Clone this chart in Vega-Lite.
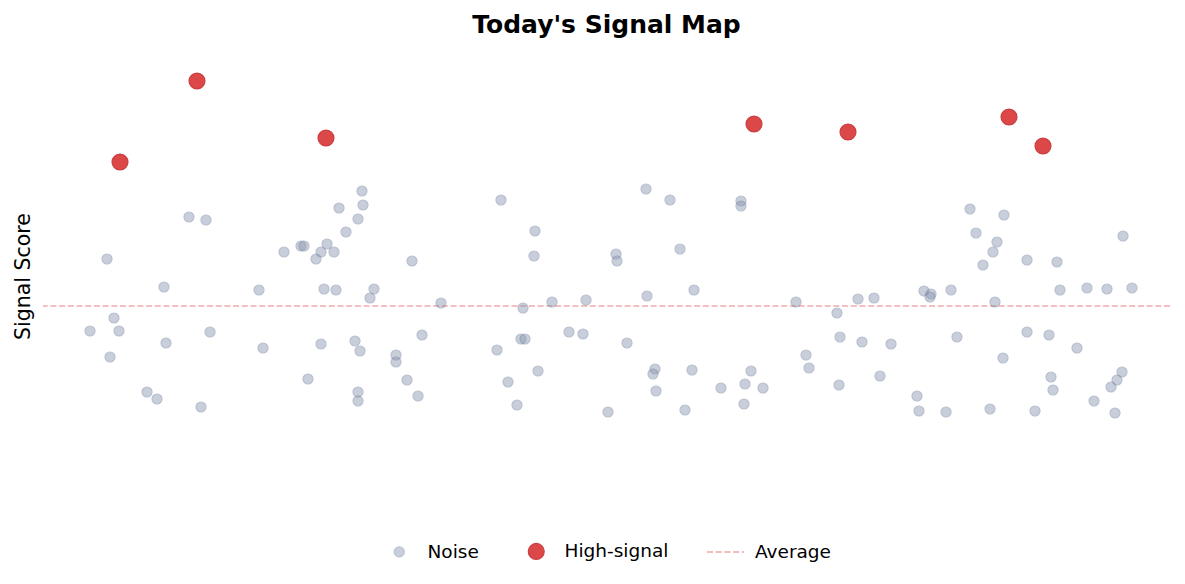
{
  "$schema": "https://vega.github.io/schema/vega-lite/v6.json",
  "width": 1127,
  "height": 460,
  "autosize": "none",
  "padding": {"left": 43, "top": 46, "right": 15, "bottom": 78},
  "config": {"view": {"stroke": null}, "font": "DejaVu Sans"},
  "title": {
    "text": "Today's Signal Map",
    "font": "DejaVu Sans",
    "fontSize": 25,
    "fontWeight": "bold",
    "color": "black",
    "anchor": "middle",
    "offset": 8
  },
  "data": {
    "values": [
      {"t": 77, "score": 14.4, "kind": "High-signal"},
      {"t": 154, "score": 22.5, "kind": "High-signal"},
      {"t": 283, "score": 16.8, "kind": "High-signal"},
      {"t": 711, "score": 18.2, "kind": "High-signal"},
      {"t": 805, "score": 17.4, "kind": "High-signal"},
      {"t": 966, "score": 18.9, "kind": "High-signal"},
      {"t": 1000, "score": 16.0, "kind": "High-signal"},
      {"t": 319, "score": 11.5, "kind": "Noise"},
      {"t": 320, "score": 10.1, "kind": "Noise"},
      {"t": 296, "score": 9.8, "kind": "Noise"},
      {"t": 146, "score": 8.9, "kind": "Noise"},
      {"t": 163, "score": 8.6, "kind": "Noise"},
      {"t": 315, "score": 8.7, "kind": "Noise"},
      {"t": 303, "score": 7.4, "kind": "Noise"},
      {"t": 258, "score": 6.0, "kind": "Noise"},
      {"t": 261, "score": 6.0, "kind": "Noise"},
      {"t": 284, "score": 6.2, "kind": "Noise"},
      {"t": 241, "score": 5.4, "kind": "Noise"},
      {"t": 278, "score": 5.4, "kind": "Noise"},
      {"t": 291, "score": 5.4, "kind": "Noise"},
      {"t": 273, "score": 4.7, "kind": "Noise"},
      {"t": 64, "score": 4.7, "kind": "Noise"},
      {"t": 369, "score": 4.5, "kind": "Noise"},
      {"t": 121, "score": 1.9, "kind": "Noise"},
      {"t": 216, "score": 1.6, "kind": "Noise"},
      {"t": 281, "score": 1.7, "kind": "Noise"},
      {"t": 293, "score": 1.6, "kind": "Noise"},
      {"t": 331, "score": 1.7, "kind": "Noise"},
      {"t": 327, "score": 0.8, "kind": "Noise"},
      {"t": 398, "score": 0.3, "kind": "Noise"},
      {"t": 71, "score": -1.2, "kind": "Noise"},
      {"t": 47, "score": -2.5, "kind": "Noise"},
      {"t": 76, "score": -2.5, "kind": "Noise"},
      {"t": 167, "score": -2.6, "kind": "Noise"},
      {"t": 123, "score": -3.7, "kind": "Noise"},
      {"t": 278, "score": -3.8, "kind": "Noise"},
      {"t": 312, "score": -3.5, "kind": "Noise"},
      {"t": 317, "score": -4.5, "kind": "Noise"},
      {"t": 220, "score": -4.2, "kind": "Noise"},
      {"t": 379, "score": -2.9, "kind": "Noise"},
      {"t": 353, "score": -4.9, "kind": "Noise"},
      {"t": 353, "score": -5.6, "kind": "Noise"},
      {"t": 67, "score": -5.1, "kind": "Noise"},
      {"t": 265, "score": -7.3, "kind": "Noise"},
      {"t": 364, "score": -7.4, "kind": "Noise"},
      {"t": 104, "score": -8.6, "kind": "Noise"},
      {"t": 114, "score": -9.3, "kind": "Noise"},
      {"t": 315, "score": -8.6, "kind": "Noise"},
      {"t": 315, "score": -9.5, "kind": "Noise"},
      {"t": 375, "score": -9.0, "kind": "Noise"},
      {"t": 158, "score": -10.1, "kind": "Noise"},
      {"t": 603, "score": 11.7, "kind": "Noise"},
      {"t": 458, "score": 10.6, "kind": "Noise"},
      {"t": 627, "score": 10.6, "kind": "Noise"},
      {"t": 698, "score": 10.5, "kind": "Noise"},
      {"t": 698, "score": 10.0, "kind": "Noise"},
      {"t": 492, "score": 7.5, "kind": "Noise"},
      {"t": 491, "score": 5.0, "kind": "Noise"},
      {"t": 573, "score": 5.2, "kind": "Noise"},
      {"t": 574, "score": 4.5, "kind": "Noise"},
      {"t": 637, "score": 5.7, "kind": "Noise"},
      {"t": 651, "score": 1.6, "kind": "Noise"},
      {"t": 604, "score": 1.0, "kind": "Noise"},
      {"t": 509, "score": 0.4, "kind": "Noise"},
      {"t": 543, "score": 0.6, "kind": "Noise"},
      {"t": 480, "score": -0.2, "kind": "Noise"},
      {"t": 753, "score": 0.4, "kind": "Noise"},
      {"t": 526, "score": -2.6, "kind": "Noise"},
      {"t": 540, "score": -2.8, "kind": "Noise"},
      {"t": 478, "score": -3.3, "kind": "Noise"},
      {"t": 482, "score": -3.3, "kind": "Noise"},
      {"t": 454, "score": -4.4, "kind": "Noise"},
      {"t": 584, "score": -3.7, "kind": "Noise"},
      {"t": 495, "score": -6.5, "kind": "Noise"},
      {"t": 465, "score": -7.6, "kind": "Noise"},
      {"t": 612, "score": -6.3, "kind": "Noise"},
      {"t": 610, "score": -6.8, "kind": "Noise"},
      {"t": 613, "score": -8.5, "kind": "Noise"},
      {"t": 649, "score": -6.4, "kind": "Noise"},
      {"t": 708, "score": -6.5, "kind": "Noise"},
      {"t": 702, "score": -7.8, "kind": "Noise"},
      {"t": 678, "score": -8.2, "kind": "Noise"},
      {"t": 720, "score": -8.2, "kind": "Noise"},
      {"t": 474, "score": -9.9, "kind": "Noise"},
      {"t": 565, "score": -10.6, "kind": "Noise"},
      {"t": 642, "score": -10.4, "kind": "Noise"},
      {"t": 701, "score": -9.8, "kind": "Noise"},
      {"t": 927, "score": 9.7, "kind": "Noise"},
      {"t": 961, "score": 9.1, "kind": "Noise"},
      {"t": 933, "score": 7.3, "kind": "Noise"},
      {"t": 954, "score": 6.4, "kind": "Noise"},
      {"t": 1080, "score": 7.0, "kind": "Noise"},
      {"t": 950, "score": 5.4, "kind": "Noise"},
      {"t": 940, "score": 4.1, "kind": "Noise"},
      {"t": 984, "score": 4.6, "kind": "Noise"},
      {"t": 1014, "score": 4.4, "kind": "Noise"},
      {"t": 881, "score": 1.5, "kind": "Noise"},
      {"t": 888, "score": 1.2, "kind": "Noise"},
      {"t": 887, "score": 0.9, "kind": "Noise"},
      {"t": 908, "score": 1.6, "kind": "Noise"},
      {"t": 1017, "score": 1.6, "kind": "Noise"},
      {"t": 1044, "score": 1.8, "kind": "Noise"},
      {"t": 1064, "score": 1.7, "kind": "Noise"},
      {"t": 1089, "score": 1.8, "kind": "Noise"},
      {"t": 815, "score": 0.7, "kind": "Noise"},
      {"t": 831, "score": 0.8, "kind": "Noise"},
      {"t": 952, "score": 0.4, "kind": "Noise"},
      {"t": 794, "score": -0.7, "kind": "Noise"},
      {"t": 797, "score": -3.1, "kind": "Noise"},
      {"t": 819, "score": -3.6, "kind": "Noise"},
      {"t": 848, "score": -3.8, "kind": "Noise"},
      {"t": 914, "score": -3.1, "kind": "Noise"},
      {"t": 984, "score": -2.6, "kind": "Noise"},
      {"t": 1006, "score": -2.9, "kind": "Noise"},
      {"t": 1034, "score": -4.2, "kind": "Noise"},
      {"t": 960, "score": -5.2, "kind": "Noise"},
      {"t": 763, "score": -4.9, "kind": "Noise"},
      {"t": 766, "score": -6.2, "kind": "Noise"},
      {"t": 837, "score": -7.0, "kind": "Noise"},
      {"t": 796, "score": -7.9, "kind": "Noise"},
      {"t": 1008, "score": -7.1, "kind": "Noise"},
      {"t": 1010, "score": -8.4, "kind": "Noise"},
      {"t": 1079, "score": -6.6, "kind": "Noise"},
      {"t": 1074, "score": -7.4, "kind": "Noise"},
      {"t": 1068, "score": -8.1, "kind": "Noise"},
      {"t": 874, "score": -9.0, "kind": "Noise"},
      {"t": 876, "score": -10.5, "kind": "Noise"},
      {"t": 903, "score": -10.6, "kind": "Noise"},
      {"t": 947, "score": -10.3, "kind": "Noise"},
      {"t": 992, "score": -10.5, "kind": "Noise"},
      {"t": 1051, "score": -9.5, "kind": "Noise"},
      {"t": 1072, "score": -10.7, "kind": "Noise"}
    ]
  },
  "encoding": {
    "y": {
      "field": "score",
      "type": "quantitative",
      "scale": {"domain": [-20, 26], "nice": false, "zero": false},
      "axis": {
        "title": "Signal Score",
        "labels": false,
        "ticks": false,
        "domain": false,
        "grid": false,
        "titleFont": "DejaVu Sans",
        "titleFontSize": 20.5,
        "titleFontWeight": "normal",
        "titleColor": "black",
        "titlePadding": 10
      }
    }
  },
  "layer": [
    {
      "data": {"values": [{"label": "Average", "score": 0}]},
      "mark": {"type": "rule", "color": "#d62728", "strokeOpacity": 0.4, "strokeWidth": 1.7},
      "encoding": {
        "strokeDash": {
          "datum": "Average",
          "type": "nominal",
          "scale": {"domain": ["Average"], "range": [[6, 2.7]]},
          "legend": {
            "title": null,
            "orient": "none",
            "legendX": 663,
            "legendY": 486.5,
            "padding": 0,
            "symbolType": "stroke",
            "symbolSize": 1369,
            "symbolStrokeColor": "#d62728",
            "symbolOpacity": 0.4,
            "symbolStrokeWidth": 1.7,
            "labelFont": "DejaVu Sans",
            "labelFontSize": 18.5,
            "labelColor": "black",
            "labelOffset": 10
          }
        }
      }
    },
    {
      "mark": {"type": "circle", "strokeWidth": 1.2},
      "encoding": {
        "x": {
          "field": "t",
          "type": "quantitative",
          "scale": {"domain": [0, 1127], "nice": false, "zero": false},
          "axis": null
        },
        "color": {
          "field": "kind",
          "type": "nominal",
          "scale": {"domain": ["Noise", "High-signal"], "range": ["#8d9ab3", "#d62728"]},
          "legend": {
            "title": null,
            "orient": "none",
            "direction": "horizontal",
            "legendX": 347,
            "legendY": 496,
            "padding": 0,
            "labelFont": "DejaVu Sans",
            "labelFontSize": 18.5,
            "labelColor": "black",
            "labelOffset": 19,
            "columnPadding": 46,
            "symbolStrokeWidth": 1.2
          }
        },
        "size": {
          "field": "kind",
          "type": "nominal",
          "scale": {"domain": ["Noise", "High-signal"], "range": [100, 254]}
        },
        "opacity": {
          "field": "kind",
          "type": "nominal",
          "scale": {"domain": ["Noise", "High-signal"], "range": [0.48, 0.85]}
        },
        "stroke": {
          "field": "kind",
          "type": "nominal",
          "scale": {"domain": ["Noise", "High-signal"], "range": ["#6e7d9c", "#c01f20"]},
          "legend": null
        }
      }
    }
  ]
}
